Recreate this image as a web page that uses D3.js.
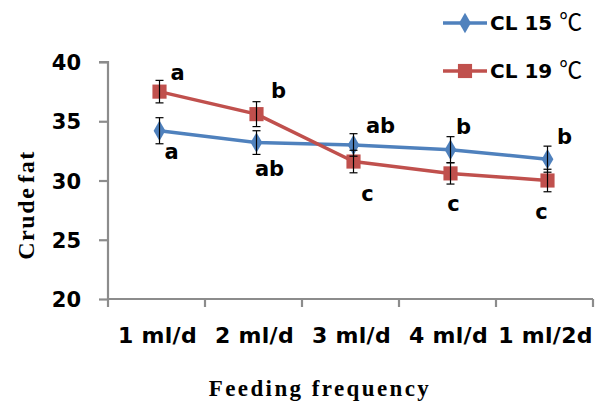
<!DOCTYPE html>
<html><head><meta charset="utf-8">
<script src="https://cdn.jsdelivr.net/npm/d3@7"></script>
<style>
body{margin:0;background:#fff;}
svg{display:block;}
</style>
</head><body>
<svg id="chart" width="599" height="406"></svg>
<script>
const categories = ["1 ml/d", "2 ml/d", "3 ml/d", "4 ml/d", "1 ml/2d"];
const cl15Values = [34.2, 33.2, 33.0, 32.6, 31.8];
const cl15Errors = [1.1, 1.0, 0.95, 1.1, 1.1];
const cl15Letters = ["a", "ab", "ab", "b", "b"];
const cl19Values = [37.5, 35.6, 31.6, 30.6, 30.0];
const cl19Errors = [0.95, 1.05, 0.95, 0.9, 0.95];
const cl19Letters = ["a", "b", "c", "c", "c"];
const yTicks = [20, 25, 30, 35, 40];
const seriesNames = ["CL 15", "CL 19"];

// label offsets (layout only)
const cl15LabelOffsets = [[12, 21], [13, 26], [27, -19], [13, -23], [17, -23]];
const cl19LabelOffsets = [[18, -19], [22, -23], [14, 32], [3, 30], [-6, 31]];

const svg = d3.select("#chart");
const pLeft = 108, pRight = 593, pTop = 62, pBottom = 299;
const x = d3.scaleBand().domain(categories).range([pLeft, pRight]).padding(0);
const y = d3.scaleLinear().domain([20, 40]).range([pBottom, pTop]);
const cx = c => x(c) + x.bandwidth() / 2 + 3;

const axisColor = "#8c8c8c";
const tickFont = "'DejaVu Sans', Verdana, sans-serif";
const serif = "'Liberation Serif', 'Times New Roman', serif";

// Y axis
const yAxis = svg.append("g").attr("transform", `translate(${pLeft},0)`)
  .call(d3.axisLeft(y).tickValues(yTicks).tickSize(9).tickPadding(18).tickFormat(d3.format("d")));
yAxis.select(".domain").attr("stroke", axisColor).attr("stroke-width", 2.2).attr("d", `M-9,${pTop}H0V${pBottom}`);
yAxis.selectAll(".tick line").attr("stroke", axisColor).attr("stroke-width", 2.2);
yAxis.selectAll(".tick text").attr("font-family", tickFont).attr("font-weight", "bold")
  .attr("font-size", 21).attr("fill", "#000").attr("dy", "0.36em");

// X axis
const xAxisG = svg.append("g").attr("transform", `translate(0,${pBottom})`);
xAxisG.append("line").attr("x1", pLeft).attr("x2", pRight).attr("y1", 0).attr("y2", 0)
  .attr("stroke", axisColor).attr("stroke-width", 2.2);
const boundaries = categories.map(c => x(c)).concat([pRight]);
xAxisG.selectAll("line.tk").data(boundaries).join("line").attr("class", "tk")
  .attr("x1", d => d).attr("x2", d => d).attr("y1", 0).attr("y2", 8)
  .attr("stroke", axisColor).attr("stroke-width", 2.2);
xAxisG.selectAll("text").data(categories).join("text")
  .attr("x", d => x(d) + x.bandwidth() / 2 + 1).attr("y", 44)
  .attr("text-anchor", "middle").attr("font-family", tickFont).attr("font-weight", "bold")
  .attr("font-size", 22).attr("letter-spacing", 0.3).attr("fill", "#000").text(d => d);

// Axis titles
svg.append("text").attr("x", 320).attr("y", 396).attr("text-anchor", "middle")
  .attr("font-family", serif).attr("font-weight", "bold")
  .attr("font-size", 23).attr("letter-spacing", 2.4).attr("fill", "#000").text("Feeding frequency");
svg.append("text").attr("transform", "translate(34,205) rotate(-90)").attr("text-anchor", "middle")
  .attr("font-family", serif).attr("font-weight", "bold")
  .attr("font-size", 24).attr("letter-spacing", 1.6).attr("word-spacing", -4).attr("fill", "#000").text("Crude fat");

const blue = "#4F81BD", red = "#C0504D";
const series = [
  {name: seriesNames[0], vals: cl15Values, errs: cl15Errors, letters: cl15Letters, offs: cl15LabelOffsets, color: blue, shape: d3.symbolDiamond, size: 120},
  {name: seriesNames[1], vals: cl19Values, errs: cl19Errors, letters: cl19Letters, offs: cl19LabelOffsets, color: red, shape: d3.symbolSquare, size: 200}
];

const line = d3.line().x((d, i) => cx(categories[i])).y(d => y(d));

series.forEach(s => {
  svg.append("path").datum(s.vals).attr("d", line).attr("fill", "none")
    .attr("stroke", s.color).attr("stroke-width", 3.5).attr("stroke-linejoin", "round");
});
series.forEach(s => {
  svg.selectAll(null).data(s.vals).join("path")
    .attr("transform", (d, i) => `translate(${cx(categories[i])},${y(d)})`)
    .attr("d", d3.symbol().type(s.shape).size(s.size)).attr("fill", s.color);
});
series.forEach(s => {
  const g = svg.append("g").attr("stroke", "#000").attr("stroke-width", 1.2);
  s.vals.forEach((v, i) => {
    const px = cx(categories[i]);
    const y1 = y(v + s.errs[i]), y2 = y(v - s.errs[i]);
    g.append("line").attr("x1", px).attr("x2", px).attr("y1", y1).attr("y2", y2);
    g.append("line").attr("x1", px - 4).attr("x2", px + 4).attr("y1", y1).attr("y2", y1);
    g.append("line").attr("x1", px - 4).attr("x2", px + 4).attr("y1", y2).attr("y2", y2);
  });
});
series.forEach(s => {
  svg.selectAll(null).data(s.letters).join("text")
    .attr("x", (d, i) => cx(categories[i]) + s.offs[i][0])
    .attr("y", (d, i) => y(s.vals[i]) + s.offs[i][1])
    .attr("dy", "0.35em").attr("text-anchor", "middle")
    .attr("font-family", tickFont).attr("font-weight", "bold").attr("font-size", 21)
    .attr("fill", "#000").text(d => d);
});

const legY = [23, 71];
series.forEach((s, k) => {
  const g = svg.append("g").attr("transform", `translate(0,${legY[k]})`);
  g.append("line").attr("x1", 443).attr("x2", 487).attr("y1", 0).attr("y2", 0)
    .attr("stroke", s.color).attr("stroke-width", 3.5);
  g.append("path").attr("transform", "translate(465,0)")
    .attr("d", d3.symbol().type(s.shape).size(s.size)).attr("fill", s.color);
  const t = g.append("text").attr("x", 490).attr("y", 0).attr("dy", "0.36em")
    .attr("font-family", tickFont).attr("font-size", 20).attr("fill", "#000");
  t.append("tspan").attr("font-weight", "bold").text(s.name + " ");
  t.append("tspan").attr("font-family", "'Noto Sans CJK SC', sans-serif").attr("font-weight", "normal")
    .attr("font-size", 23).text("℃");
});
</script>
</body></html>
